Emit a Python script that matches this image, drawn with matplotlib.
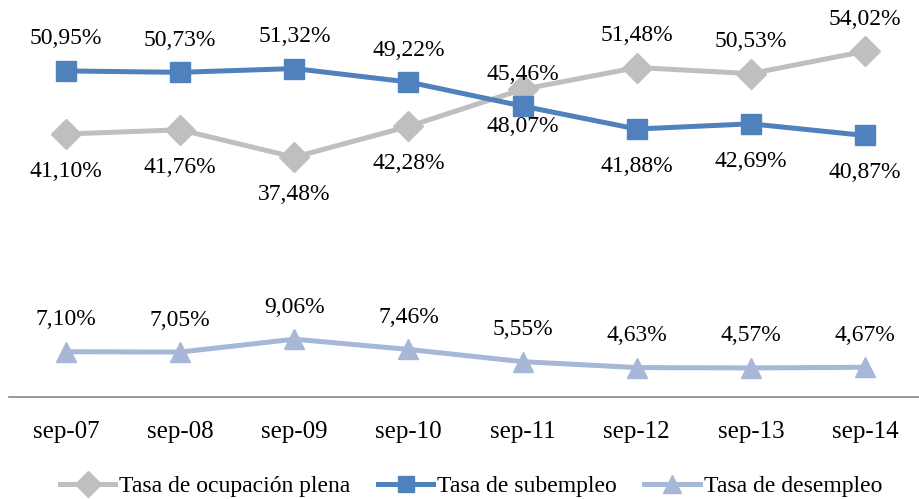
import matplotlib

matplotlib.use("Agg")
import matplotlib.pyplot as plt  # noqa: E402

# --- data ---
periods = ["sep-07", "sep-08", "sep-09", "sep-10", "sep-11", "sep-12", "sep-13", "sep-14"]
# plotted positions (at sep-11 the markers sit swapped relative to their labels)
ocupacion_plena = [41.10, 41.76, 37.48, 42.28, 48.07, 51.48, 50.53, 54.02]
subempleo = [50.95, 50.73, 51.32, 49.22, 45.46, 41.88, 42.69, 40.87]
desempleo = [7.10, 7.05, 9.06, 7.46, 5.55, 4.63, 4.57, 4.67]
# data-label values as printed in the reference
ocupacion_labels = [41.10, 41.76, 37.48, 42.28, 45.46, 51.48, 50.53, 54.02]
subempleo_labels = [50.95, 50.73, 51.32, 49.22, 48.07, 41.88, 42.69, 40.87]

# label placement: True -> above the point
plena_above = [False, False, False, False, True, True, True, True]
sub_above = [True, True, True, True, False, False, False, False]

plt.rcParams["font.family"] = ["Liberation Serif", "DejaVu Serif"]
FS_LABEL = 17
FS_TICK = 18
FS_LEGEND = 17
UP, DOWN = 23, -27

fig = plt.figure(figsize=(9.19, 4.99), dpi=100)
ax = fig.add_axes([0.0098, 0.204, 0.9935, 0.77])

x = list(range(len(periods)))
ax.plot(x, ocupacion_plena, color="#BFBFBF", lw=3.6, marker="D", ms=15,
        label="Tasa de ocupación plena", zorder=3)
ax.plot(x, subempleo, color="#4F81BD", lw=3.6, marker="s", ms=14,
        label="Tasa de subempleo", zorder=4)
ax.plot(x, desempleo, color="#A6B7D7", lw=3.6, marker="^", ms=15,
        label="Tasa de desempleo", zorder=3)


def fmt(v):
    return f"{v:.2f}%".replace(".", ",")


for i, v in enumerate(ocupacion_labels):
    ax.annotate(fmt(v), (i, v), xytext=(0, UP if plena_above[i] else DOWN),
                textcoords="offset points", ha="center", va="center", fontsize=FS_LABEL)
for i, v in enumerate(subempleo_labels):
    ax.annotate(fmt(v), (i, v), xytext=(0, UP if sub_above[i] else DOWN),
                textcoords="offset points", ha="center", va="center", fontsize=FS_LABEL)
for i, v in enumerate(desempleo):
    ax.annotate(fmt(v), (i, v), xytext=(0, UP), textcoords="offset points",
                ha="center", va="center", fontsize=FS_LABEL)

ax.set_xlim(-0.5, len(periods) - 0.5)
ax.set_ylim(0, 60)
ax.set_xticks(x)
ax.set_xticklabels(periods, fontsize=FS_TICK)
ax.tick_params(axis="x", length=0, pad=17)
ax.set_yticks([])
for side in ["left", "right", "top"]:
    ax.spines[side].set_visible(False)
ax.spines["bottom"].set_color("#868686")
ax.spines["bottom"].set_linewidth(1.2)
ax.patch.set_visible(False)

fig.legend(loc="center", bbox_to_anchor=(0.5125, 0.026), ncol=3, frameon=False,
           fontsize=FS_LEGEND, handlelength=2.35, handletextpad=0.17, columnspacing=1.15,
           markerscale=0.85)

fig.savefig("out.png", dpi=100)
